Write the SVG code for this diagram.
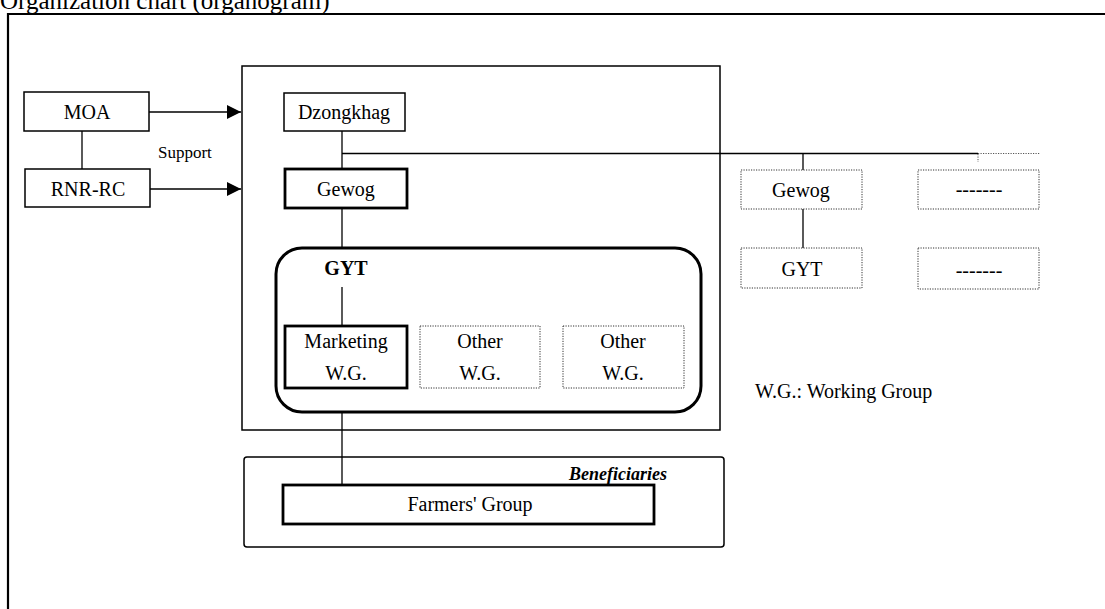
<svg xmlns="http://www.w3.org/2000/svg" width="1105" height="609" viewBox="0 0 1105 609">
<style>
text{font-family:"Liberation Serif","Times New Roman",serif;fill:#000;}
.lbl{font-size:20px;text-anchor:middle;}
.box{fill:#fff;stroke:#000;stroke-width:1.5;}
.thick{fill:#fff;stroke:#000;stroke-width:2.8;}
.dot{fill:#fff;stroke:#333;stroke-width:1;stroke-dasharray:1.2 1.3;}
.ln{fill:none;stroke:#000;stroke-width:1.3;}
.dl{fill:none;stroke:#555;stroke-width:1;stroke-dasharray:1.2 1.3;}
</style>
<defs>
<marker id="arr" markerWidth="14" markerHeight="14" refX="14" refY="7" orient="auto" markerUnits="userSpaceOnUse">
<path d="M0,0 L14,7 L0,14 Z" fill="#000"/>
</marker>
</defs>
<rect width="1105" height="609" fill="#fff"/>
<text x="0" y="9" style="font-size:25px">Organization chart (organogram)</text>
<path d="M8,609 V14 H1105" fill="none" stroke="#000" stroke-width="2.2"/>

<g id="dzongkhag-area">
<rect x="242" y="66" width="478" height="364" class="box"/>
</g>
<g id="beneficiaries-area">
<rect x="244" y="457" width="480" height="90" rx="3" class="box"/>
<text x="667" y="480" style="font-size:18px;font-weight:bold;font-style:italic;text-anchor:end">Beneficiaries</text>
</g>
<g id="gyt-area">
<rect x="276" y="248" width="425" height="164" rx="26" fill="none" stroke="#000" stroke-width="3"/>
<text x="346" y="275" class="lbl" style="font-weight:bold">GYT</text>
</g>

<g id="connectors">
<line x1="82" y1="131" x2="82" y2="169" class="ln"/>
<line x1="149" y1="112" x2="241" y2="112" class="ln" marker-end="url(#arr)"/>
<line x1="150" y1="189" x2="241" y2="189" class="ln" marker-end="url(#arr)"/>
<line x1="342" y1="131" x2="342" y2="169" class="ln"/>
<line x1="342" y1="153.5" x2="978" y2="153.5" class="ln"/>
<line x1="978" y1="153.5" x2="1040" y2="153.5" class="dl"/>
<line x1="978" y1="154" x2="978" y2="162" class="dl"/>
<line x1="803" y1="153.5" x2="803" y2="170" class="ln"/>
<line x1="803" y1="209" x2="803" y2="248" class="ln"/>
<line x1="342" y1="208" x2="342" y2="248" class="ln"/>
<line x1="342" y1="287" x2="342" y2="326" class="ln"/>
<line x1="342" y1="412" x2="342" y2="485" class="ln"/>
</g>

<text x="158" y="158" style="font-size:17px">Support</text>

<g id="moa">
<rect x="24" y="92" width="125" height="39" class="box"/>
<text x="87" y="119" class="lbl">MOA</text>
</g>
<g id="rnr-rc">
<rect x="25" y="169" width="125" height="38" class="box"/>
<text x="88" y="196" class="lbl">RNR-RC</text>
</g>
<g id="dzongkhag">
<rect x="284" y="93" width="121" height="38" class="box"/>
<text x="344" y="119" class="lbl">Dzongkhag</text>
</g>
<g id="gewog">
<rect x="285" y="169" width="122" height="39" class="thick"/>
<text x="346" y="196" class="lbl">Gewog</text>
</g>
<g id="marketing-wg">
<rect x="285" y="326" width="122" height="62" class="thick"/>
<text x="346" y="348" class="lbl">Marketing</text>
<text x="346" y="380" class="lbl">W.G.</text>
</g>
<g id="other-wg-1">
<rect x="420" y="326" width="120" height="62" class="dot"/>
<text x="480" y="348" class="lbl">Other</text>
<text x="480" y="380" class="lbl">W.G.</text>
</g>
<g id="other-wg-2">
<rect x="563" y="326" width="121" height="62" class="dot"/>
<text x="623" y="348" class="lbl">Other</text>
<text x="623" y="380" class="lbl">W.G.</text>
</g>
<g id="farmers-group">
<rect x="283" y="485" width="371" height="39" class="thick"/>
<text x="470" y="511" class="lbl">Farmers' Group</text>
</g>
<g id="gewog-2">
<rect x="741" y="170" width="121" height="39" class="dot"/>
<text x="801" y="197" class="lbl">Gewog</text>
</g>
<g id="gyt-2">
<rect x="741" y="248" width="121" height="40" class="dot"/>
<text x="802" y="276" class="lbl">GYT</text>
</g>
<g id="other-1">
<rect x="918" y="170" width="121" height="39" class="dot"/>
<text x="979" y="196" class="lbl">-------</text>
</g>
<g id="other-2">
<rect x="918" y="248" width="121" height="41" class="dot"/>
<text x="979" y="277" class="lbl">-------</text>
</g>
<text x="755" y="398" style="font-size:20px">W.G.: Working Group</text>
</svg>
